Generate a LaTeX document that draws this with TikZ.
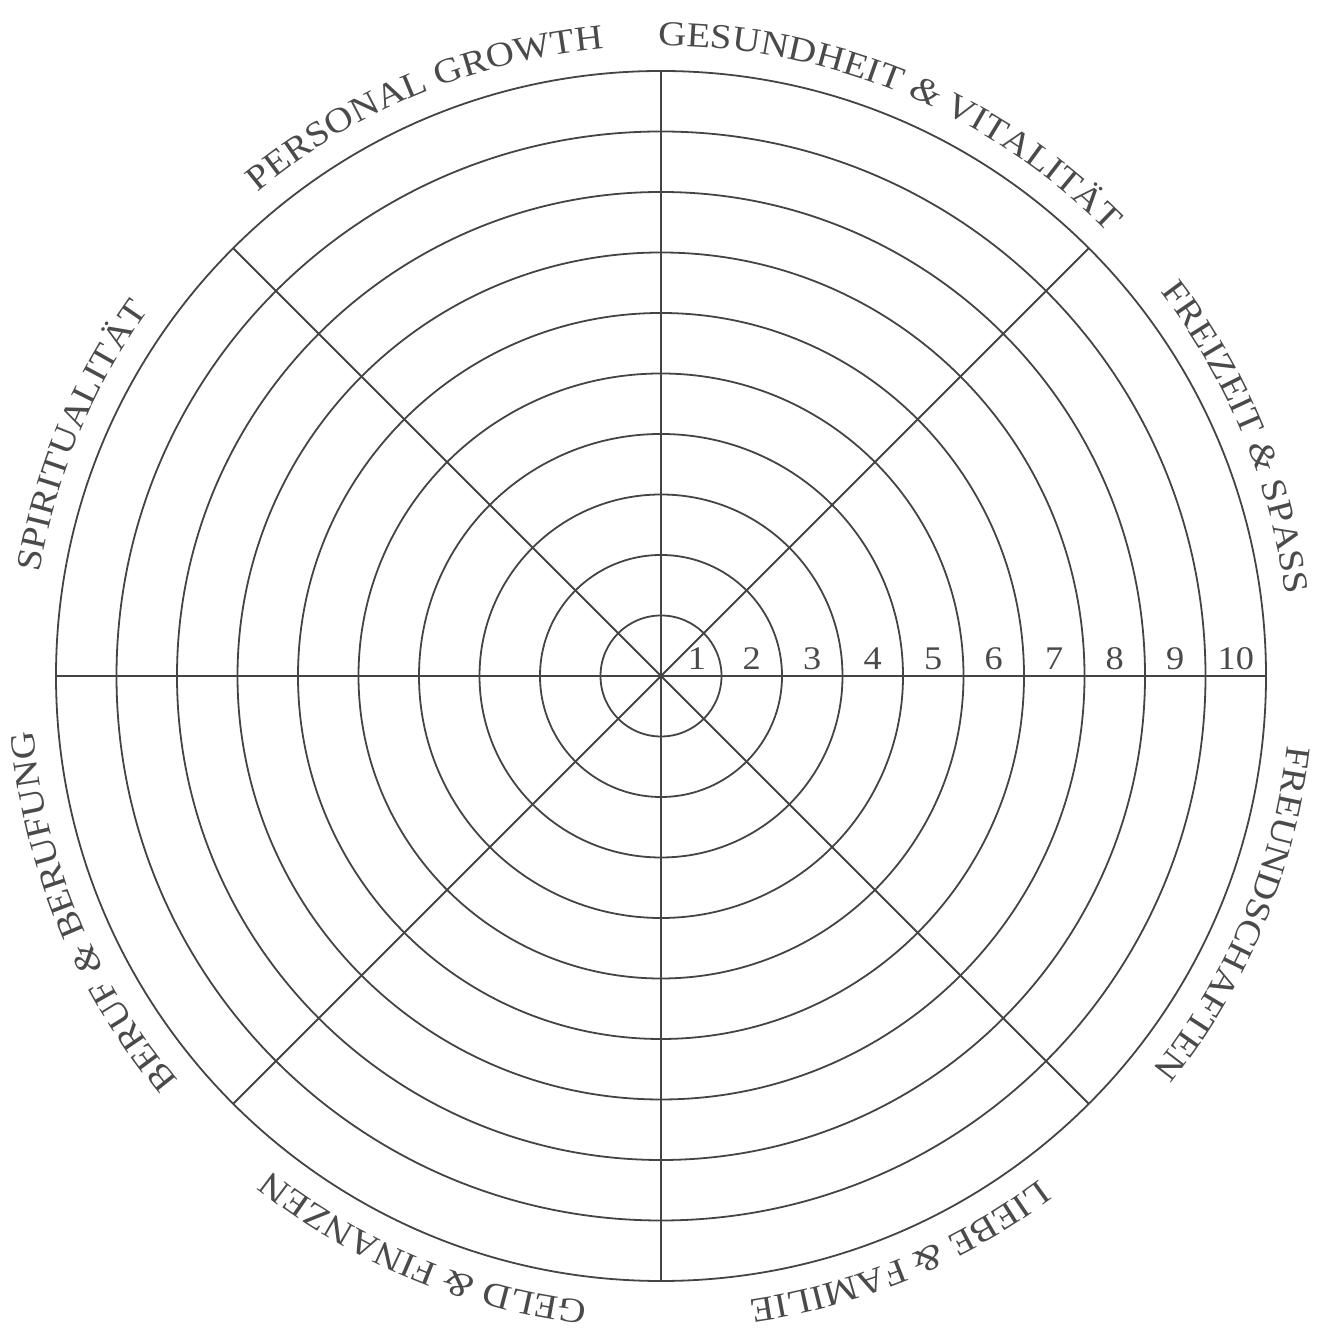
\documentclass[tikz,border=0pt]{standalone}
\usepackage{fontspec}
\setmainfont{Liberation Serif}
\newfontfamily\labfont[FakeStretch=1.11]{Liberation Serif}
\newfontfamily\numfont[FakeStretch=1.1]{Liberation Serif}
\usetikzlibrary{decorations.text,calc}
\definecolor{ink}{HTML}{444444}
\definecolor{txt}{HTML}{4A4A4A}
\begin{document}
\begin{tikzpicture}[x=1pt,y=1pt,
  ring/.style={draw=ink,line width=1.8pt},
  spoke/.style={draw=ink,line width=1.8pt},
  num/.style={anchor=base,text=txt,font=\numfont\fontsize{33}{36}\selectfont,inner sep=0pt},
  arclabel/.style={decorate,decoration={text along path,text align=center,
     text={|\labfont\fontsize{35}{40}\selectfont\color{txt}|#1}}}]
\useasboundingbox (0,0) rectangle (1326,1329);
\coordinate (c) at (661,653);
\foreach \r in {1,...,10} \draw[ring] (c) circle[radius=60.5*\r];
\foreach \a [count=\i] in {0,45,...,315} {
  \coordinate (e\i) at ($(c)+(\a:605)$);
}
\foreach \i in {1,...,8} \draw[spoke] (c) -- (e\i);
% numbers
\node[num] (n1) at ($(c)+(36,6)$) {1};
\foreach \k in {2,...,10} {
  \node[num] (n\k) at ($(c)+({60.5*(\k-0.5)},6)$) {\k};
}
% labels
\path[arclabel={GESUNDHEIT {\itshape\&} VITALIT{Ä}T}] ($(c)+(97.5:630)$) arc[start angle=97.5,end angle=37.5,radius=630];
\path[arclabel={FREIZEIT {\itshape\&} SPASS}] ($(c)+(52.5:630)$) arc[start angle=52.5,end angle=-7.5,radius=630];
\path[arclabel={FREUNDSCHAFTEN}] ($(c)+(7.5:630)$) arc[start angle=7.5,end angle=-52.5,radius=630];
\path[arclabel={LIEBE {\itshape\&} FAMILIE}] ($(c)+(-37.5:630)$) arc[start angle=-37.5,end angle=-97.5,radius=630];
\path[arclabel={GELD {\itshape\&} FINANZEN}] ($(c)+(-82.5:630)$) arc[start angle=-82.5,end angle=-142.5,radius=630];
\path[arclabel={BERUF {\itshape\&} BERUFUNG}] ($(c)+(-127.5:630)$) arc[start angle=-127.5,end angle=-187.5,radius=630];
\path[arclabel={SPIRITUALIT{Ä}T}] ($(c)+(187.5:630)$) arc[start angle=187.5,end angle=127.5,radius=630];
\path[arclabel={PERSONAL GROWTH}] ($(c)+(142.5:630)$) arc[start angle=142.5,end angle=82.5,radius=630];
\end{tikzpicture}
\end{document}
